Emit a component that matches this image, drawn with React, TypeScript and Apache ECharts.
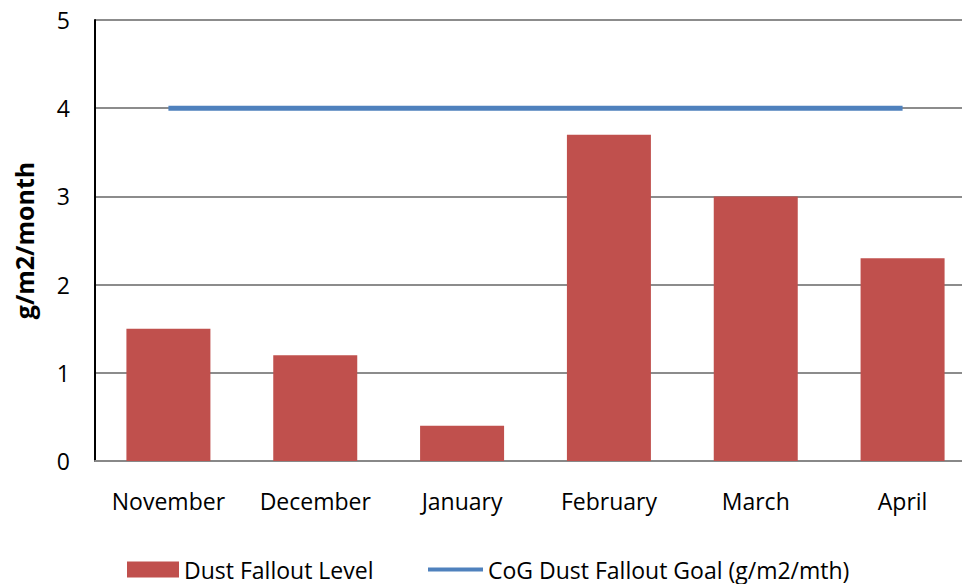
import React, { useEffect, useRef } from "react";
import * as echarts from "echarts";

const categories = ["November", "December", "January", "February", "March", "April"];
const dustLevels = [1.5, 1.2, 0.4, 3.7, 3.0, 2.3];
const goalValues = [4, 4, 4, 4, 4, 4];
const yTicks = { min: 0, max: 5, interval: 1 };

const FONT = "'Open Sans', 'Noto Sans', sans-serif";
const BAR_NAME = "Dust Fallout Level";
const LINE_NAME = "CoG Dust Fallout Goal (g/m2/mth)";
const FS = 23;

export default function App() {
  const ref = useRef<HTMLDivElement>(null);
  useEffect(() => {
    if (!ref.current) return;
    const chart = echarts.init(ref.current, undefined, { renderer: "svg" });
    chart.setOption({
      animation: false,
      textStyle: { fontFamily: FONT },
      grid: { left: 95, top: 20, width: 881, height: 441, containLabel: false },
      legend: [
        {
          top: 558,
          left: 127,
          padding: 0,
          itemWidth: 52,
          itemHeight: 16,
          itemGap: 0,
          icon: "rect",
          textStyle: { fontSize: FS, color: "#000", fontFamily: FONT },
          data: [BAR_NAME],
        },
        {
          top: 558,
          left: 428,
          padding: 0,
          itemWidth: 55,
          itemHeight: 4,
          itemGap: 0,
          icon: "rect",
          textStyle: { fontSize: FS, color: "#000", fontFamily: FONT },
          data: [LINE_NAME],
        },
      ],
      xAxis: {
        type: "category",
        data: categories,
        axisLine: { show: true, lineStyle: { color: "#888", width: 2 } },
        axisTick: { show: false },
        axisLabel: { fontSize: FS, color: "#000", margin: 28, fontFamily: FONT, interval: 0 },
      },
      yAxis: {
        type: "value",
        min: yTicks.min,
        max: yTicks.max,
        interval: yTicks.interval,
        name: "g/m2/month",
        nameLocation: "middle",
        nameGap: 59,
        nameTextStyle: { fontSize: 25, fontWeight: "bold", color: "#000", fontFamily: FONT },
        axisLine: { show: true, lineStyle: { color: "#000", width: 2 } },
        axisTick: { show: false },
        axisLabel: { fontSize: FS, color: "#000", margin: 25, fontFamily: FONT },
        splitLine: { show: true, lineStyle: { color: "#8c8c8c", width: 2 } },
      },
      series: [
        {
          name: BAR_NAME,
          type: "bar",
          data: dustLevels,
          barWidth: 84,
          itemStyle: { color: "#C0504D" },
        },
        {
          name: LINE_NAME,
          type: "line",
          data: goalValues,
          symbol: "none",
          lineStyle: { color: "#4F81BD", width: 5 },
          itemStyle: { color: "#4F81BD" },
        },
      ],
    });
    return () => chart.dispose();
  }, []);
  return (
    <div style={{ width: 962, height: 584, position: "absolute", left: 0, top: 0, overflow: "hidden" }}>
      <div ref={ref} style={{ width: 990, height: 584 }} />
    </div>
  );
}
